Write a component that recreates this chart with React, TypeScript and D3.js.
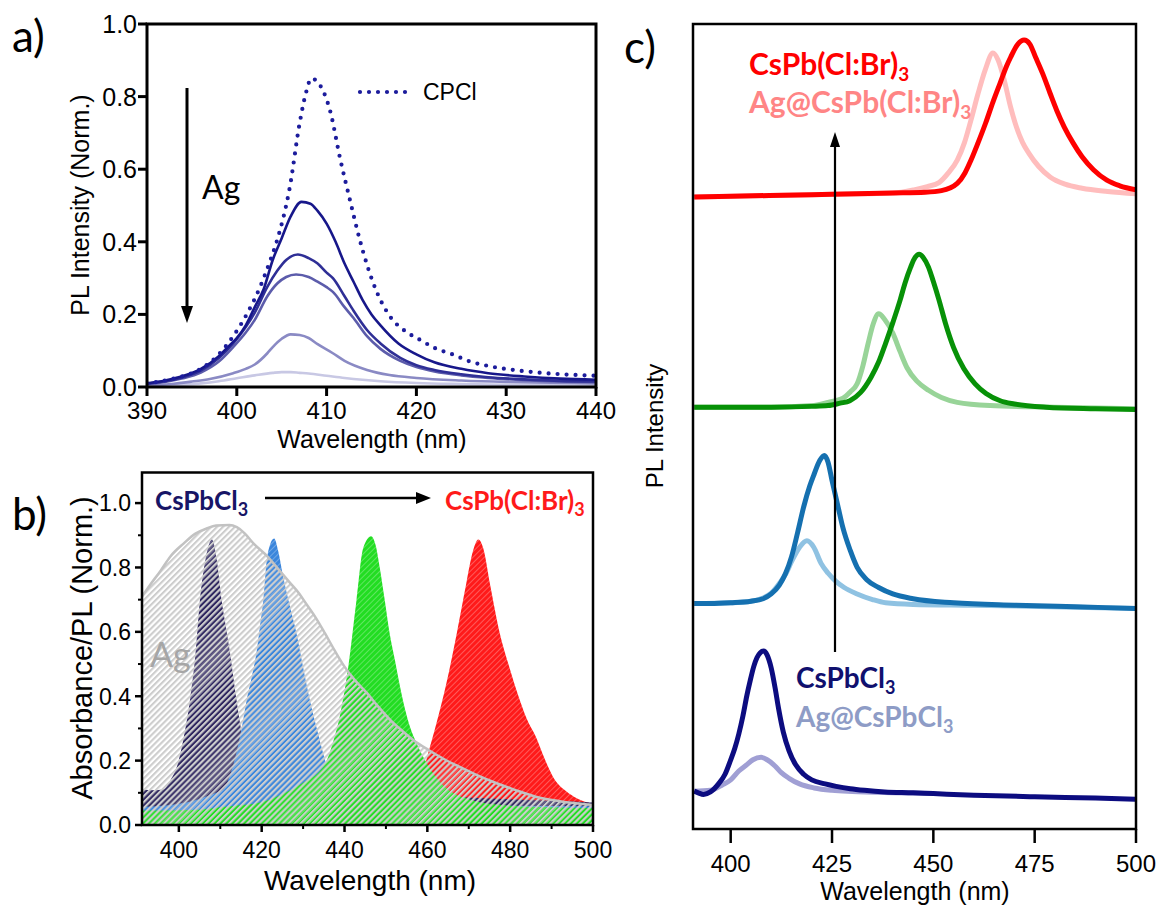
import React from "react";
import * as d3 from "d3";

type Pt = [number, number];

// ---------------- Panel a: PL (Norm.) vs wavelength ----------------
const aXTicks = [390, 400, 410, 420, 430, 440];
const aYTicks = [0, 0.2, 0.4, 0.6, 0.8, 1.0];

const aCPCl: Pt[] = [
  [390, 0.01], [392, 0.018], [394, 0.03], [396, 0.05], [398, 0.09], [399.6, 0.14], [401.1, 0.2],
  [402.6, 0.276], [403.6, 0.34], [404.5, 0.405], [405.9, 0.55], [407, 0.727], [407.7, 0.81],
  [408.3, 0.85], [409.3, 0.83], [410.4, 0.76], [411.5, 0.63], [412.6, 0.515], [413.7, 0.405],
  [415.2, 0.286], [417.1, 0.193], [418.7, 0.155], [420.4, 0.13], [422, 0.108], [424, 0.09],
  [426, 0.07], [428, 0.058], [431.5, 0.045], [435, 0.037], [440, 0.031],
];
const aAg1: Pt[] = [
  [390, 0.01], [392, 0.018], [394, 0.03], [396, 0.05], [398, 0.085], [399, 0.11], [400, 0.135],
  [401, 0.17], [402, 0.22], [403, 0.27], [404, 0.35], [405, 0.41], [406, 0.47], [407.2, 0.51],
  [408.2, 0.505], [409, 0.485], [410, 0.45], [411, 0.4], [412, 0.34], [413, 0.29], [414, 0.24],
  [415, 0.2], [416, 0.17], [418, 0.12], [420, 0.09], [422, 0.068], [425, 0.05], [428, 0.038],
  [432, 0.029], [436, 0.023], [440, 0.02],
];
const aAg2: Pt[] = [
  [390, 0.009], [392, 0.016], [394, 0.027], [396, 0.045], [398, 0.08], [399.6, 0.12], [401, 0.165],
  [402, 0.205], [403.4, 0.276], [404.5, 0.32], [405.5, 0.35], [406.8, 0.365], [408, 0.355],
  [409, 0.34], [410, 0.315], [410.7, 0.3], [412, 0.25], [413, 0.21], [414.5, 0.157], [416, 0.12],
  [418.2, 0.08], [420, 0.06], [422, 0.047], [425, 0.035], [428, 0.027], [432, 0.021], [436, 0.017],
  [440, 0.015],
];
const aAg3: Pt[] = [
  [390, 0.008], [392, 0.014], [394, 0.024], [396, 0.04], [398, 0.07], [399.6, 0.11], [401, 0.15],
  [402, 0.185], [403.4, 0.25], [404.5, 0.285], [405.5, 0.303], [406.6, 0.31], [408, 0.303],
  [409, 0.29], [410, 0.275], [410.7, 0.262], [412, 0.22], [413, 0.19], [414.5, 0.14], [416, 0.105],
  [418.2, 0.072], [420, 0.055], [422, 0.043], [425, 0.032], [428, 0.025], [432, 0.019],
  [436, 0.015], [440, 0.013],
];
const aAg4: Pt[] = [
  [390, 0.004], [393, 0.009], [395, 0.015], [397, 0.022], [399.6, 0.038], [401, 0.05], [402, 0.062],
  [403.4, 0.093], [404, 0.11], [405, 0.133], [406, 0.145], [407, 0.143], [408, 0.135], [409, 0.118],
  [410.7, 0.093], [412, 0.072], [414.5, 0.047], [417, 0.033], [420, 0.025], [425, 0.018],
  [430, 0.014], [435, 0.012], [440, 0.01],
];
const aAg5: Pt[] = [
  [390, 0.002], [394, 0.006], [396, 0.01], [398, 0.016], [400, 0.024], [402, 0.032], [404, 0.039],
  [405, 0.041], [406, 0.041], [407, 0.039], [408, 0.037], [410, 0.031], [412, 0.025], [414, 0.02],
  [416, 0.016], [420, 0.011], [425, 0.008], [430, 0.006], [440, 0.005],
];
const aAgSeries = [aAg5, aAg4, aAg3, aAg2, aAg1];
const aAgColors = ["#c8c8e4", "#8a8ac4", "#5c5cab", "#2f2f96", "#17178a"];

// ---------------- Panel b: Absorbance / PL ----------------
const bXMajor = [400, 420, 440, 460, 480, 500];
const bXMinor = [410, 430, 450, 470, 490];
const bYMajor = [0, 0.2, 0.4, 0.6, 0.8, 1.0];
const bYMinor = [0.1, 0.3, 0.5, 0.7, 0.9];

const bAgAbs: Pt[] = [
  [391.1, 0.71], [393, 0.745], [395.6, 0.79], [398, 0.835], [401.2, 0.875], [404, 0.905],
  [406.7, 0.921], [409, 0.93], [412.2, 0.932], [414, 0.925], [415.9, 0.906], [418, 0.875],
  [421.5, 0.833], [424, 0.795], [427, 0.75], [429, 0.72], [430.7, 0.688], [433, 0.645],
  [435.3, 0.595], [437.5, 0.545], [440, 0.492], [442.5, 0.45], [445.5, 0.409], [448, 0.37],
  [451.1, 0.326], [454, 0.292], [456.6, 0.264], [460.3, 0.233], [464, 0.205], [467.7, 0.181],
  [472, 0.155], [476.9, 0.129], [481, 0.11], [486.2, 0.088], [492, 0.074], [500, 0.062],
];
const bPLCl: Pt[] = [
  [391.1, 0.11], [394, 0.108], [396.2, 0.11], [398, 0.14], [399.5, 0.18], [401, 0.26],
  [402.7, 0.39], [404, 0.53], [405.1, 0.7], [406.5, 0.83], [408, 0.887], [409.2, 0.82],
  [410.3, 0.7], [411.3, 0.62], [412.3, 0.54], [413.9, 0.39], [415.2, 0.285], [417, 0.2],
  [419, 0.155], [422, 0.13], [426, 0.115], [432, 0.105], [440, 0.1], [450, 0.095], [465, 0.088],
  [480, 0.08], [490, 0.075], [500, 0.07],
];
const bPLBlue: Pt[] = [
  [391.1, 0.057], [396, 0.06], [400, 0.066], [404.2, 0.078], [407, 0.09], [409, 0.1], [410.7, 0.11],
  [412.5, 0.16], [414, 0.23], [415.3, 0.31], [416.4, 0.39], [417.6, 0.46], [418.8, 0.54],
  [419.6, 0.62], [420.4, 0.7], [421.2, 0.82], [422, 0.87], [423, 0.89], [424, 0.85], [425.2, 0.77],
  [426.8, 0.68], [428.4, 0.595], [430, 0.49], [431.6, 0.39], [433.3, 0.3], [434.9, 0.22],
  [436.5, 0.15], [438.1, 0.1], [440, 0.075], [445, 0.065], [460, 0.062], [480, 0.06], [500, 0.058],
];
const bPLGreen: Pt[] = [
  [391.1, 0.045], [400, 0.046], [404.2, 0.047], [410, 0.055], [415, 0.062], [420.4, 0.072],
  [424, 0.09], [428.4, 0.119], [431, 0.14], [433.5, 0.16], [435.7, 0.2], [437.3, 0.26],
  [438.9, 0.34], [440.9, 0.49], [442.9, 0.7], [444.5, 0.86], [446.4, 0.897], [447.5, 0.87],
  [448.5, 0.8], [449.7, 0.7], [450.9, 0.595], [452.2, 0.51], [453.4, 0.43], [454.6, 0.36],
  [455.8, 0.305], [457.4, 0.254], [459.5, 0.2], [462, 0.15], [465, 0.11], [470, 0.08], [480, 0.06],
  [490, 0.055], [500, 0.052],
];
const bPLRed: Pt[] = [
  [391.1, 0.02], [420, 0.022], [440, 0.025], [450, 0.03], [455, 0.05], [458, 0.12], [460.2, 0.223],
  [462.2, 0.316], [464.6, 0.44], [467.1, 0.595], [469.4, 0.75], [471, 0.85], [472.3, 0.887],
  [473.5, 0.86], [475.1, 0.75], [477.5, 0.595], [479.8, 0.49], [482, 0.4], [484, 0.33],
  [486.2, 0.274], [488.5, 0.2], [490.8, 0.14], [493, 0.11], [495.4, 0.088], [500, 0.065],
];
// drawing order bottom -> top
const bPLSeries = [bPLRed, bPLCl, bPLBlue, bPLGreen];
const bPLColors = ["#ff1a1a", "#2f2760", "#3b86dc", "#22dd22"];

// ---------------- Panel c: stacked PL spectra (offset a.u.) ----------------
const cXTicks = [400, 425, 450, 475, 500];

const cCl: Pt[] = [
  [391, 4.7], [392, 4.5], [393.3, 4.3], [395, 4.6], [397, 5.6], [398.6, 6.8], [400, 8.6], [401, 10],
  [402, 11.8], [403, 14], [404, 16.6], [404.8, 18.4], [405.7, 20.2], [406.5, 21.3], [407.3, 21.9],
  [408.1, 22.1], [409, 21.6], [410, 20], [411, 17.4], [411.8, 15], [413, 12], [414.4, 9.7],
  [416, 8], [418, 6.8], [420, 6.1], [423.3, 5.6], [426, 5.3], [429.5, 5], [433, 4.8], [438, 4.6],
  [445, 4.5], [450, 4.4], [460, 4.2], [475, 4], [490, 3.85], [500, 3.7],
];
const cAgCl: Pt[] = [
  [391, 4.7], [395, 4.8], [398, 5.5], [400, 6.1], [402, 7.2], [404, 8], [405.5, 8.6], [407.5, 8.9],
  [409, 8.6], [411, 7.8], [412.5, 7], [414.4, 6.3], [417, 5.6], [420.6, 5.1], [425, 4.8],
  [430, 4.65], [440, 4.5], [450, 4.4],
];
const cBlue: Pt[] = [
  [391, 28], [395, 28], [400, 28.1], [405, 28.3], [408, 28.6], [410, 29.2], [412, 30.3],
  [413.5, 31.7], [415, 33.8], [416.5, 36.8], [418, 40], [419.5, 42.6], [420.6, 44.1], [422, 45.8],
  [423.1, 46.4], [424, 45.6], [425, 43.3], [426.5, 40], [427.7, 37.4], [429.5, 34.6], [431.2, 32.5],
  [433.5, 31], [436.5, 30], [440, 29.2], [445, 28.6], [455, 28.1], [470, 27.8], [485, 27.6],
  [500, 27.4],
];
const cAgBlue: Pt[] = [
  [391, 28], [400, 28.1], [405, 28.3], [408, 28.7], [410, 29.3], [412, 30.5], [413.6, 31.7],
  [415, 33.2], [417, 35], [418.8, 35.8], [420.5, 35], [422.3, 33], [424, 31.8], [425.9, 30.8],
  [428, 30], [431.2, 29.2], [435, 28.5], [438.2, 28.1], [445, 27.9], [460, 27.8], [500, 27.4],
];
const cGreen: Pt[] = [
  [391, 52.4], [400, 52.4], [410, 52.4], [420, 52.5], [424, 52.6], [427, 52.9], [429.4, 53.2],
  [432, 54.2], [434.6, 56.1], [436.5, 58], [438.2, 60.3], [440, 62.9], [441.8, 65.7], [443, 67.8],
  [444.4, 69.8], [445.5, 71], [446.5, 71.4], [447.5, 71], [448.8, 69.8], [450, 68], [451.4, 65.7],
  [453, 62.8], [455, 59.8], [457.5, 57.2], [460.3, 55.3], [463, 54.1], [466.5, 53.2], [470, 52.8],
  [477.8, 52.4], [490, 52.2], [500, 52.1],
];
const cAgGreen: Pt[] = [
  [391, 52.4], [410, 52.4], [420, 52.6], [424, 53], [427.7, 53.5], [429.5, 54.3], [431.2, 55.3],
  [432.6, 57.5], [433.9, 60.3], [435.2, 62.8], [436.5, 64], [438, 63.3], [440, 61.6], [441.8, 59.3],
  [443.5, 57.3], [446, 55.6], [448.8, 54.5], [452, 53.6], [455.9, 53], [464, 52.6], [480, 52.4],
  [500, 52.2],
];
const cRed: Pt[] = [
  [391, 78.5], [400, 78.6], [420, 78.8], [440, 79], [448, 79.1], [452, 79.3], [455.9, 80.2],
  [457.8, 81.5], [459.3, 83.1], [461, 85.2], [462.9, 87.7], [464.7, 90.3], [466.5, 92.7],
  [468, 94.7], [469.1, 95.9], [470.7, 97.4], [472.4, 98], [473.8, 97.5], [475.2, 95.9], [477, 93.8],
  [478.8, 91.4], [480.5, 89.2], [482.3, 87.2], [484.5, 85.2], [486.7, 83.5], [489.5, 81.9],
  [492.8, 80.6], [496, 79.9], [500, 79.4],
];
const cAgRed: Pt[] = [
  [391, 78.5], [420, 78.8], [440, 79], [445.2, 79.4], [448.5, 79.8], [451.4, 80.3], [453.7, 81.5],
  [455.9, 83.1], [457.7, 85.3], [459.3, 88.1], [461, 91.3], [462.8, 94.3], [464.7, 96.4],
  [466, 95.5], [467.5, 93], [469, 89.8], [470.5, 87.2], [472, 85.3], [473.5, 84], [476, 82.3],
  [478.8, 81], [482.5, 80.1], [486.7, 79.6], [493, 79.2], [500, 78.9],
];
// drawing order bottom -> top
const cSeries = [cAgRed, cRed, cAgGreen, cGreen, cAgBlue, cBlue, cAgCl, cCl];
const cColors = ["#ffbdbd", "#ff0000", "#98d498", "#079107", "#8fc2e2", "#1570b0", "#a09fd4", "#0c0c80"];

const SANS = "'Liberation Sans', Arial, sans-serif";
const CAL = "Lato, 'Open Sans', sans-serif";

export default function App() {
  // ---- scales ----
  const ax = d3.scaleLinear().domain([390, 440]).range([147, 596]);
  const ay = d3.scaleLinear().domain([0, 1]).range([387, 24]);
  const bx = d3.scaleLinear().domain([391.1, 500]).range([142, 593]);
  const by = d3.scaleLinear().domain([0, 1.095]).range([825, 472.5]);
  const cx = d3.scaleLinear().domain([390.7, 500]).range([693, 1136]);
  const cy = d3.scaleLinear().domain([0, 100]).range([829, 24]);

  const aLine = d3.line<Pt>().x((d) => ax(d[0])).y((d) => ay(d[1])).curve(d3.curveMonotoneX);
  const bArea = d3
    .area<Pt>()
    .x((d) => bx(d[0]))
    .y0(by(0))
    .y1((d) => by(d[1]))
    .curve(d3.curveMonotoneX);
  const bLine = d3.line<Pt>().x((d) => bx(d[0])).y((d) => by(d[1])).curve(d3.curveMonotoneX);
  const cLine = d3.line<Pt>().x((d) => cx(d[0])).y((d) => cy(d[1])).curve(d3.curveMonotoneX);

  const bIds = ["hr", "hp", "hb", "hg"];

  return (
    <svg
      width={1160}
      height={906}
      style={{ position: "absolute", left: 0, top: 0, background: "#fff" }}
    >
      <defs>
        <clipPath id="clipA">
          <rect x={147} y={24} width={449} height={363} />
        </clipPath>
        <clipPath id="clipB">
          <rect x={142} y={472.5} width={451} height={352.5} />
        </clipPath>
        <clipPath id="clipC">
          <rect x={693} y={24} width={443} height={805} />
        </clipPath>
        {bPLColors.map((c, i) => (
          <pattern
            key={bIds[i]}
            id={bIds[i]}
            width={4}
            height={4}
            patternUnits="userSpaceOnUse"
            patternTransform="rotate(45)"
          >
            <rect x={0} y={0} width={4} height={4} fill={c} />
            <rect x={0} y={0} width={0.7} height={4} fill="#ffffff" opacity={0.4} />
          </pattern>
        ))}
        <pattern
          id="hgray"
          width={4.2}
          height={4.2}
          patternUnits="userSpaceOnUse"
          patternTransform="rotate(45)"
        >
          <rect x={0} y={0} width={2.1} height={4.2} fill="#cdcdcd" />
        </pattern>
      </defs>

      {/* ================= Panel a ================= */}
      <text x={12} y={52} fontFamily={CAL} fontSize={44}>
        a)
      </text>
      <g clipPath="url(#clipA)">
        {aAgSeries.map((s, i) => (
          <path key={i} d={aLine(s) || ""} fill="none" stroke={aAgColors[i]} strokeWidth={2.6} />
        ))}
        <path
          d={aLine(aCPCl) || ""}
          fill="none"
          stroke="#1c1c9c"
          strokeWidth={4.2}
          strokeLinecap="round"
          strokeDasharray="0 9"
        />
      </g>
      {/* legend */}
      <line x1={360} x2={414} y1={92} y2={92} stroke="#1c1c9c" strokeWidth={4.2} strokeLinecap="round" strokeDasharray="0 9" />
      <text x={423} y={100} fontFamily={SANS} fontSize={23}>
        CPCl
      </text>
      {/* Ag arrow */}
      <line x1={187} x2={187} y1={88} y2={310} stroke="#000" strokeWidth={3} />
      <path d="M187,323 L181,306 L193,306 Z" fill="#000" />
      <text x={202} y={199} fontFamily={CAL} fontSize={32}>
        Ag
      </text>
      {/* frame & ticks */}
      <rect x={147} y={24} width={449} height={363} fill="none" stroke="#000" strokeWidth={3} />
      {aXTicks.map((t) => (
        <g key={t}>
          <line x1={ax(t)} x2={ax(t)} y1={387} y2={396} stroke="#000" strokeWidth={3} />
          <text x={ax(t)} y={419} textAnchor="middle" fontFamily={SANS} fontSize={24}>
            {t}
          </text>
        </g>
      ))}
      {aYTicks.map((t) => (
        <g key={t}>
          <line x1={138} x2={147} y1={ay(t)} y2={ay(t)} stroke="#000" strokeWidth={3} />
          <text x={137} y={ay(t)} dy="0.36em" textAnchor="end" fontFamily={SANS} fontSize={25}>
            {t.toFixed(1)}
          </text>
        </g>
      ))}
      <text x={372} y={448} textAnchor="middle" fontFamily={SANS} fontSize={25}>
        Wavelength (nm)
      </text>
      <text
        transform="translate(89,205) rotate(-90)"
        textAnchor="middle"
        fontFamily={SANS}
        fontSize={25}
      >
        PL Intensity (Norm.)
      </text>

      {/* ================= Panel b ================= */}
      <text x={12} y={530} fontFamily={CAL} fontSize={44}>
        b)
      </text>
      <g clipPath="url(#clipB)">
        {bPLSeries.map((s, i) => (
          <path key={i} d={bArea(s) || ""} fill={`url(#${bIds[i]})`} />
        ))}
        <path d={bArea(bAgAbs) || ""} fill="url(#hgray)" />
        <path d={bLine(bAgAbs) || ""} fill="none" stroke="#c2c2c2" strokeWidth={2.5} />
      </g>
      <text x={150} y={667} fontFamily={CAL} fontSize={34} fill="#a6a6a6">
        Ag
      </text>
      <text x={155} y={510} fontFamily={CAL} fontSize={26} fontWeight="bold" fill="#171566">
        CsPbCl
        <tspan fontSize={18} dy={6}>
          3
        </tspan>
      </text>
      <line x1={265} x2={418} y1={498} y2={498} stroke="#000" strokeWidth={2.5} />
      <path d="M431,498 L416,492 L416,504 Z" fill="#000" />
      <text x={445} y={510} fontFamily={CAL} fontSize={26} fontWeight="bold" fill="#ff1a1a">
        CsPb(Cl:Br)
        <tspan fontSize={18} dy={6}>
          3
        </tspan>
      </text>
      <rect x={142} y={472.5} width={451} height={352.5} fill="none" stroke="#000" strokeWidth={2.5} />
      {bXMajor.map((t) => (
        <g key={t}>
          <line x1={bx(t)} x2={bx(t)} y1={825} y2={832} stroke="#000" strokeWidth={2.5} />
          <text x={bx(t)} y={858} textAnchor="middle" fontFamily={SANS} fontSize={23}>
            {t}
          </text>
        </g>
      ))}
      {bXMinor.map((t) => (
        <line key={t} x1={bx(t)} x2={bx(t)} y1={825} y2={829} stroke="#000" strokeWidth={2} />
      ))}
      {bYMajor.map((t) => (
        <g key={t}>
          <line x1={135} x2={142} y1={by(t)} y2={by(t)} stroke="#000" strokeWidth={2.5} />
          <text x={131} y={by(t)} dy="0.36em" textAnchor="end" fontFamily={SANS} fontSize={23}>
            {t.toFixed(1)}
          </text>
        </g>
      ))}
      {bYMinor.map((t) => (
        <line key={t} x1={138} x2={142} y1={by(t)} y2={by(t)} stroke="#000" strokeWidth={2} />
      ))}
      <text x={370} y={890} textAnchor="middle" fontFamily={SANS} fontSize={28}>
        Wavelength (nm)
      </text>
      <text
        transform="translate(92,648) rotate(-90)"
        textAnchor="middle"
        fontFamily={SANS}
        fontSize={29}
      >
        Absorbance/PL (Norm.)
      </text>

      {/* ================= Panel c ================= */}
      <text x={624} y={63} fontFamily={CAL} fontSize={44}>
        c)
      </text>
      <g clipPath="url(#clipC)">
        {cSeries.map((s, i) => (
          <path
            key={i}
            d={cLine(s) || ""}
            fill="none"
            stroke={cColors[i]}
            strokeWidth={5}
            strokeLinejoin="round"
          />
        ))}
      </g>
      <line x1={835} x2={835} y1={652} y2={144} stroke="#000" strokeWidth={2.2} />
      <path d="M835,132 L830,147 L840,147 Z" fill="#000" />
      <text x={749} y={75} fontFamily={CAL} fontSize={30} fontWeight="bold" fill="#ff0000">
        CsPb(Cl:Br)
        <tspan fontSize={19} dy={6}>
          3
        </tspan>
      </text>
      <text x={749} y={113} fontFamily={CAL} fontSize={30} fontWeight="bold" fill="#ff8585">
        Ag@CsPb(Cl:Br)
        <tspan fontSize={19} dy={6}>
          3
        </tspan>
      </text>
      <text x={796} y={688} fontFamily={CAL} fontSize={28} fontWeight="bold" fill="#10106e">
        CsPbCl
        <tspan fontSize={18} dy={6}>
          3
        </tspan>
      </text>
      <text x={796} y={727} fontFamily={CAL} fontSize={28} fontWeight="bold" fill="#8e9cc6">
        Ag@CsPbCl
        <tspan fontSize={18} dy={6}>
          3
        </tspan>
      </text>
      <rect x={693} y={24} width={443} height={805} fill="none" stroke="#000" strokeWidth={2.5} />
      {cXTicks.map((t) => (
        <g key={t}>
          <line x1={cx(t)} x2={cx(t)} y1={829} y2={843} stroke="#000" strokeWidth={2.5} />
          <text x={cx(t)} y={872} textAnchor="middle" fontFamily={SANS} fontSize={24}>
            {t}
          </text>
        </g>
      ))}
      <text x={915} y={900} textAnchor="middle" fontFamily={SANS} fontSize={25}>
        Wavelength (nm)
      </text>
      <text
        transform="translate(663,426) rotate(-90)"
        textAnchor="middle"
        fontFamily={SANS}
        fontSize={24}
      >
        PL Intensity
      </text>
    </svg>
  );
}
